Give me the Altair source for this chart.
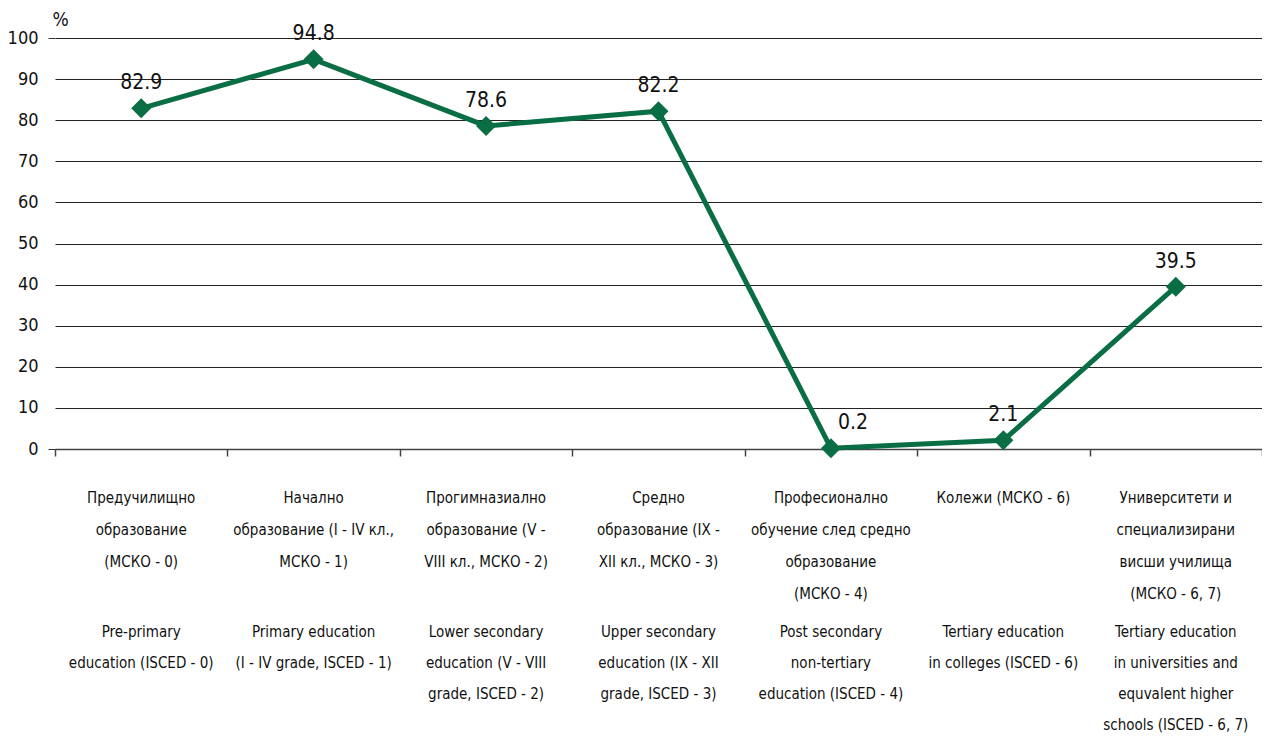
import altair as alt
import pandas as pd

# ---- data ----
labels_bg = [
    ["Предучилищно", "образование", "(МСКО - 0)"],
    ["Начално", "образование (I - IV кл.,", "МСКО - 1)"],
    ["Прогимназиално", "образование (V -", "VIII кл., МСКО - 2)"],
    ["Средно", "образование (IX -", "XII кл., МСКО - 3)"],
    ["Професионално", "обучение след средно", "образование", "(МСКО - 4)"],
    ["Колежи (МСКО - 6)"],
    ["Университети и", "специализирани", "висши училища", "(МСКО - 6, 7)"],
]
labels_en = [
    ["Pre-primary", "education (ISCED - 0)"],
    ["Primary education", "(I - IV grade, ISCED - 1)"],
    ["Lower secondary", "education (V - VIII", "grade, ISCED - 2)"],
    ["Upper secondary", "education (IX - XII", "grade, ISCED - 3)"],
    ["Post secondary", "non-tertiary", "education (ISCED - 4)"],
    ["Tertiary education", "in colleges (ISCED - 6)"],
    ["Tertiary education", "in universities and", "equvalent higher", "schools (ISCED - 6, 7)"],
]
values = [82.9, 94.8, 78.6, 82.2, 0.2, 2.1, 39.5]
y_ticks = list(range(0, 101, 10))

df = pd.DataFrame({
    "cat": [str(i) for i in range(len(values))],
    "value": values,
    "label": [f"{v:.1f}" for v in values],
    "bg": ["|".join(l) for l in labels_bg],
    "en": ["|".join(l) for l in labels_en],
})

FONT = "DejaVu Sans Condensed, Liberation Sans Narrow, Arial Narrow, sans-serif"
GREEN = "#0a6e45"
INK = "#111111"

x = alt.X(
    "cat:N", sort=None, title=None, bandPosition=0.5,
    scale=alt.Scale(type="band", paddingInner=0, paddingOuter=0),
    axis=alt.Axis(
        labels=False,
        tickBand="extent", tickSize=7, tickColor="#444444", tickWidth=1.5,
        domainColor="#444444", domainWidth=1.5, grid=False,
    ),
)
y = alt.Y(
    "value:Q",
    scale=alt.Scale(domain=[0, 100], nice=False),
    axis=alt.Axis(
        values=y_ticks, title="%", titleAngle=0, titleX=-3, titleY=-13,
        titleAlign="left", titleBaseline="alphabetic", titleFont=FONT,
        titleFontSize=19, titleFontWeight="normal", titleColor=INK,
        labelFont=FONT, labelFontSize=18, labelPadding=10, labelColor=INK,
        labelBaseline="middle",
        domain=False, ticks=True, tickSize=7,
        tickColor={"condition": {"test": "datum.value === 0 || datum.value === 100",
                                 "value": "#333333"},
                   "value": "transparent"},
        grid=True, gridColor="#222222", gridWidth=1, gridOpacity=1,
    ),
)

base = alt.Chart(df).encode(x=x)

line = base.mark_line(color=GREEN, strokeWidth=5).encode(y=y)
pts = base.mark_point(shape="diamond", filled=True, size=400, color=GREEN,
                      opacity=1).encode(y=y)
txt_main = base.mark_text(dy=-19, baseline="alphabetic", font=FONT, fontSize=21,
                          color=INK).encode(y=y, text="label:N").transform_filter("datum.value >= 1")
txt_small = base.mark_text(dy=-19, dx=22, baseline="alphabetic", font=FONT, fontSize=21,
                           color=INK).encode(y=y, text="label:N").transform_filter("datum.value < 1")

# category labels below the axis (Bulgarian block, then English block)
lab_bg = base.mark_text(baseline="alphabetic", align="center", font=FONT, fontSize=15,
                        color=INK, lineBreak="|", lineHeight=32).encode(
    y=alt.value(465), text="bg:N")
lab_en = base.mark_text(baseline="alphabetic", align="center", font=FONT, fontSize=15,
                        color=INK, lineBreak="|", lineHeight=31).encode(
    y=alt.value(599), text="en:N")

chart = (
    alt.layer(line, pts, txt_main, txt_small, lab_bg, lab_en)
    .properties(
        width=1207, height=411,
        padding={"left": 47, "top": 30, "right": 0, "bottom": 287},
        autosize=alt.AutoSizeParams(type="none"),
    )
    .configure_view(stroke="transparent")
)

chart.save("out.html", embed_options={"renderer": "svg", "actions": False})
